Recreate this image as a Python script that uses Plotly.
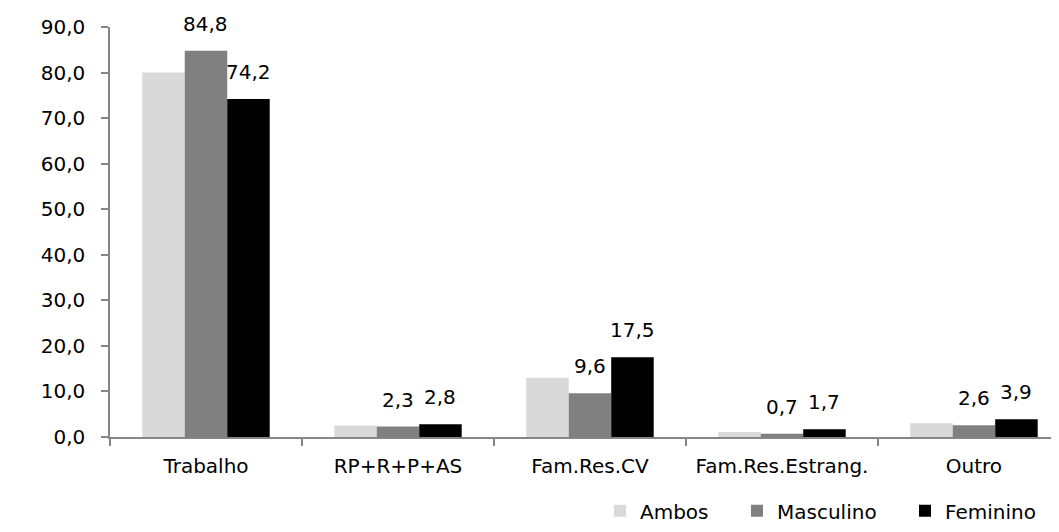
import plotly.graph_objects as go

categorias = ["Trabalho", "RP+R+P+AS", "Fam.Res.CV", "Fam.Res.Estrang.", "Outro"]
ambos = [80.0, 2.5, 13.0, 1.1, 3.0]
masculino = [84.8, 2.3, 9.6, 0.7, 2.6]
feminino = [74.2, 2.8, 17.5, 1.7, 3.9]
y_ticks = [0, 10, 20, 30, 40, 50, 60, 70, 80, 90]

# a página tem 8px de margem no body: compensar no tamanho da figura
W, H = 1051, 524
ML, MR, MT, MB = 102, 0, 19, 95
x_range = [-0.5, 4.443]
bargap = 0.336

cat_px = (W - ML - MR) / (x_range[1] - x_range[0])
bar_px = cat_px * (1 - bargap) / 3

font = dict(family="DejaVu Sans", size=20, color="black")
axis_col = "#868686"

fig = go.Figure()
series = [("Ambos", ambos, "#D9D9D9", 92),
          ("Masculino", masculino, "#808080", 123),
          ("Feminino", feminino, "#000000", 110)]
for name, vals, col, lw in series:
    fig.add_trace(go.Bar(x=categorias, y=vals, name=name, legendwidth=lw,
                         marker=dict(color=col, line=dict(width=0))))

# rótulos de dados só para Masculino e Feminino
for idx, vals in [(1, masculino), (2, feminino)]:
    for cat, v in zip(categorias, vals):
        fig.add_annotation(x=cat, y=v, text=f"{v:.1f}".replace(".", ","),
                           showarrow=False, xshift=(idx - 1) * bar_px,
                           yshift=27, yanchor="middle", font=font)

fig.update_layout(
    width=W, height=H,
    margin=dict(l=ML, r=MR, t=MT, b=MB, autoexpand=False),
    paper_bgcolor="white", plot_bgcolor="white",
    barmode="group", bargap=bargap, bargroupgap=0,
    separators=",.",
    font=font,
    showlegend=True,
    legend=dict(orientation="h", x=(600 - 8 - ML) / (W - ML - MR), xanchor="left",
                y=-0.18, yanchor="middle", font=font, traceorder="normal"),
)
fig.update_xaxes(range=x_range, showline=True, linecolor=axis_col, linewidth=1.5,
                 ticks="outside", tickson="boundaries", ticklen=7,
                 tickcolor=axis_col, tickwidth=1.5, showgrid=False,
                 ticklabelstandoff=10, tickfont=font, automargin=False)
fig.update_yaxes(range=[0, 90], tickvals=y_ticks, tickformat=".1f",
                 showline=True, linecolor=axis_col, linewidth=1.5,
                 ticks="outside", ticklen=7, tickcolor=axis_col, tickwidth=1.5,
                 showgrid=False, zeroline=False, ticklabelstandoff=12,
                 tickfont=font, automargin=False)

fig.write_html("out.html")
